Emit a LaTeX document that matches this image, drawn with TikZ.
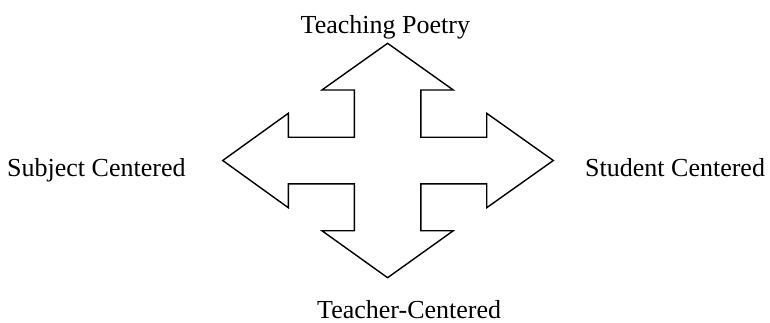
\documentclass[tikz,border=0pt]{standalone}
\usepackage{fontspec}
\setmainfont{Liberation Serif}
\usepackage{tikz}
\usetikzlibrary{calc}
\tikzset{
  label text/.style={inner sep=0pt, anchor=base west, font=\fontsize{26}{30}\selectfont},
  cross arrow/.style={draw=black, line width=1.4pt, line join=miter, fill=white}
}

\begin{document}
\begin{tikzpicture}[x=1pt, y=-1pt]
    \useasboundingbox (0,0) rectangle (770,322);
    % four-way arrow
    \coordinate (c) at (387.6,160.5);
    \draw[cross arrow, shift={(c)}]
      (0,-117.2) -- (65.7,-70.5) -- (33.2,-70.5) -- (33.2,-23.3) -- (99.1,-23.3) -- (99.1,-47.2)
      -- (165.7,0) -- (99.1,47.2) -- (99.1,23.4) -- (33.2,23.4) -- (33.2,70.2) -- (65.7,70.2)
      -- (0,117.2) -- (-65.7,70.2) -- (-33.2,70.2) -- (-33.2,23.4) -- (-99.3,23.4) -- (-99.3,47.2)
      -- (-164.9,0) -- (-99.3,-47.2) -- (-99.3,-23.3) -- (-33.2,-23.3) -- (-33.2,-70.5) -- (-65.7,-70.5)
      -- cycle;
    % labels
    \node[label text] (poetry) at (300.5,33) {Teaching Poetry};
    \node[label text] (subject) at (7,176.5) {Subject Centered};
    \node[label text] (student) at (585,176.5) {Student Centered};
    \node[label text] (teacher) at (317,318) {Teacher-Centered};
\end{tikzpicture}
\end{document}
